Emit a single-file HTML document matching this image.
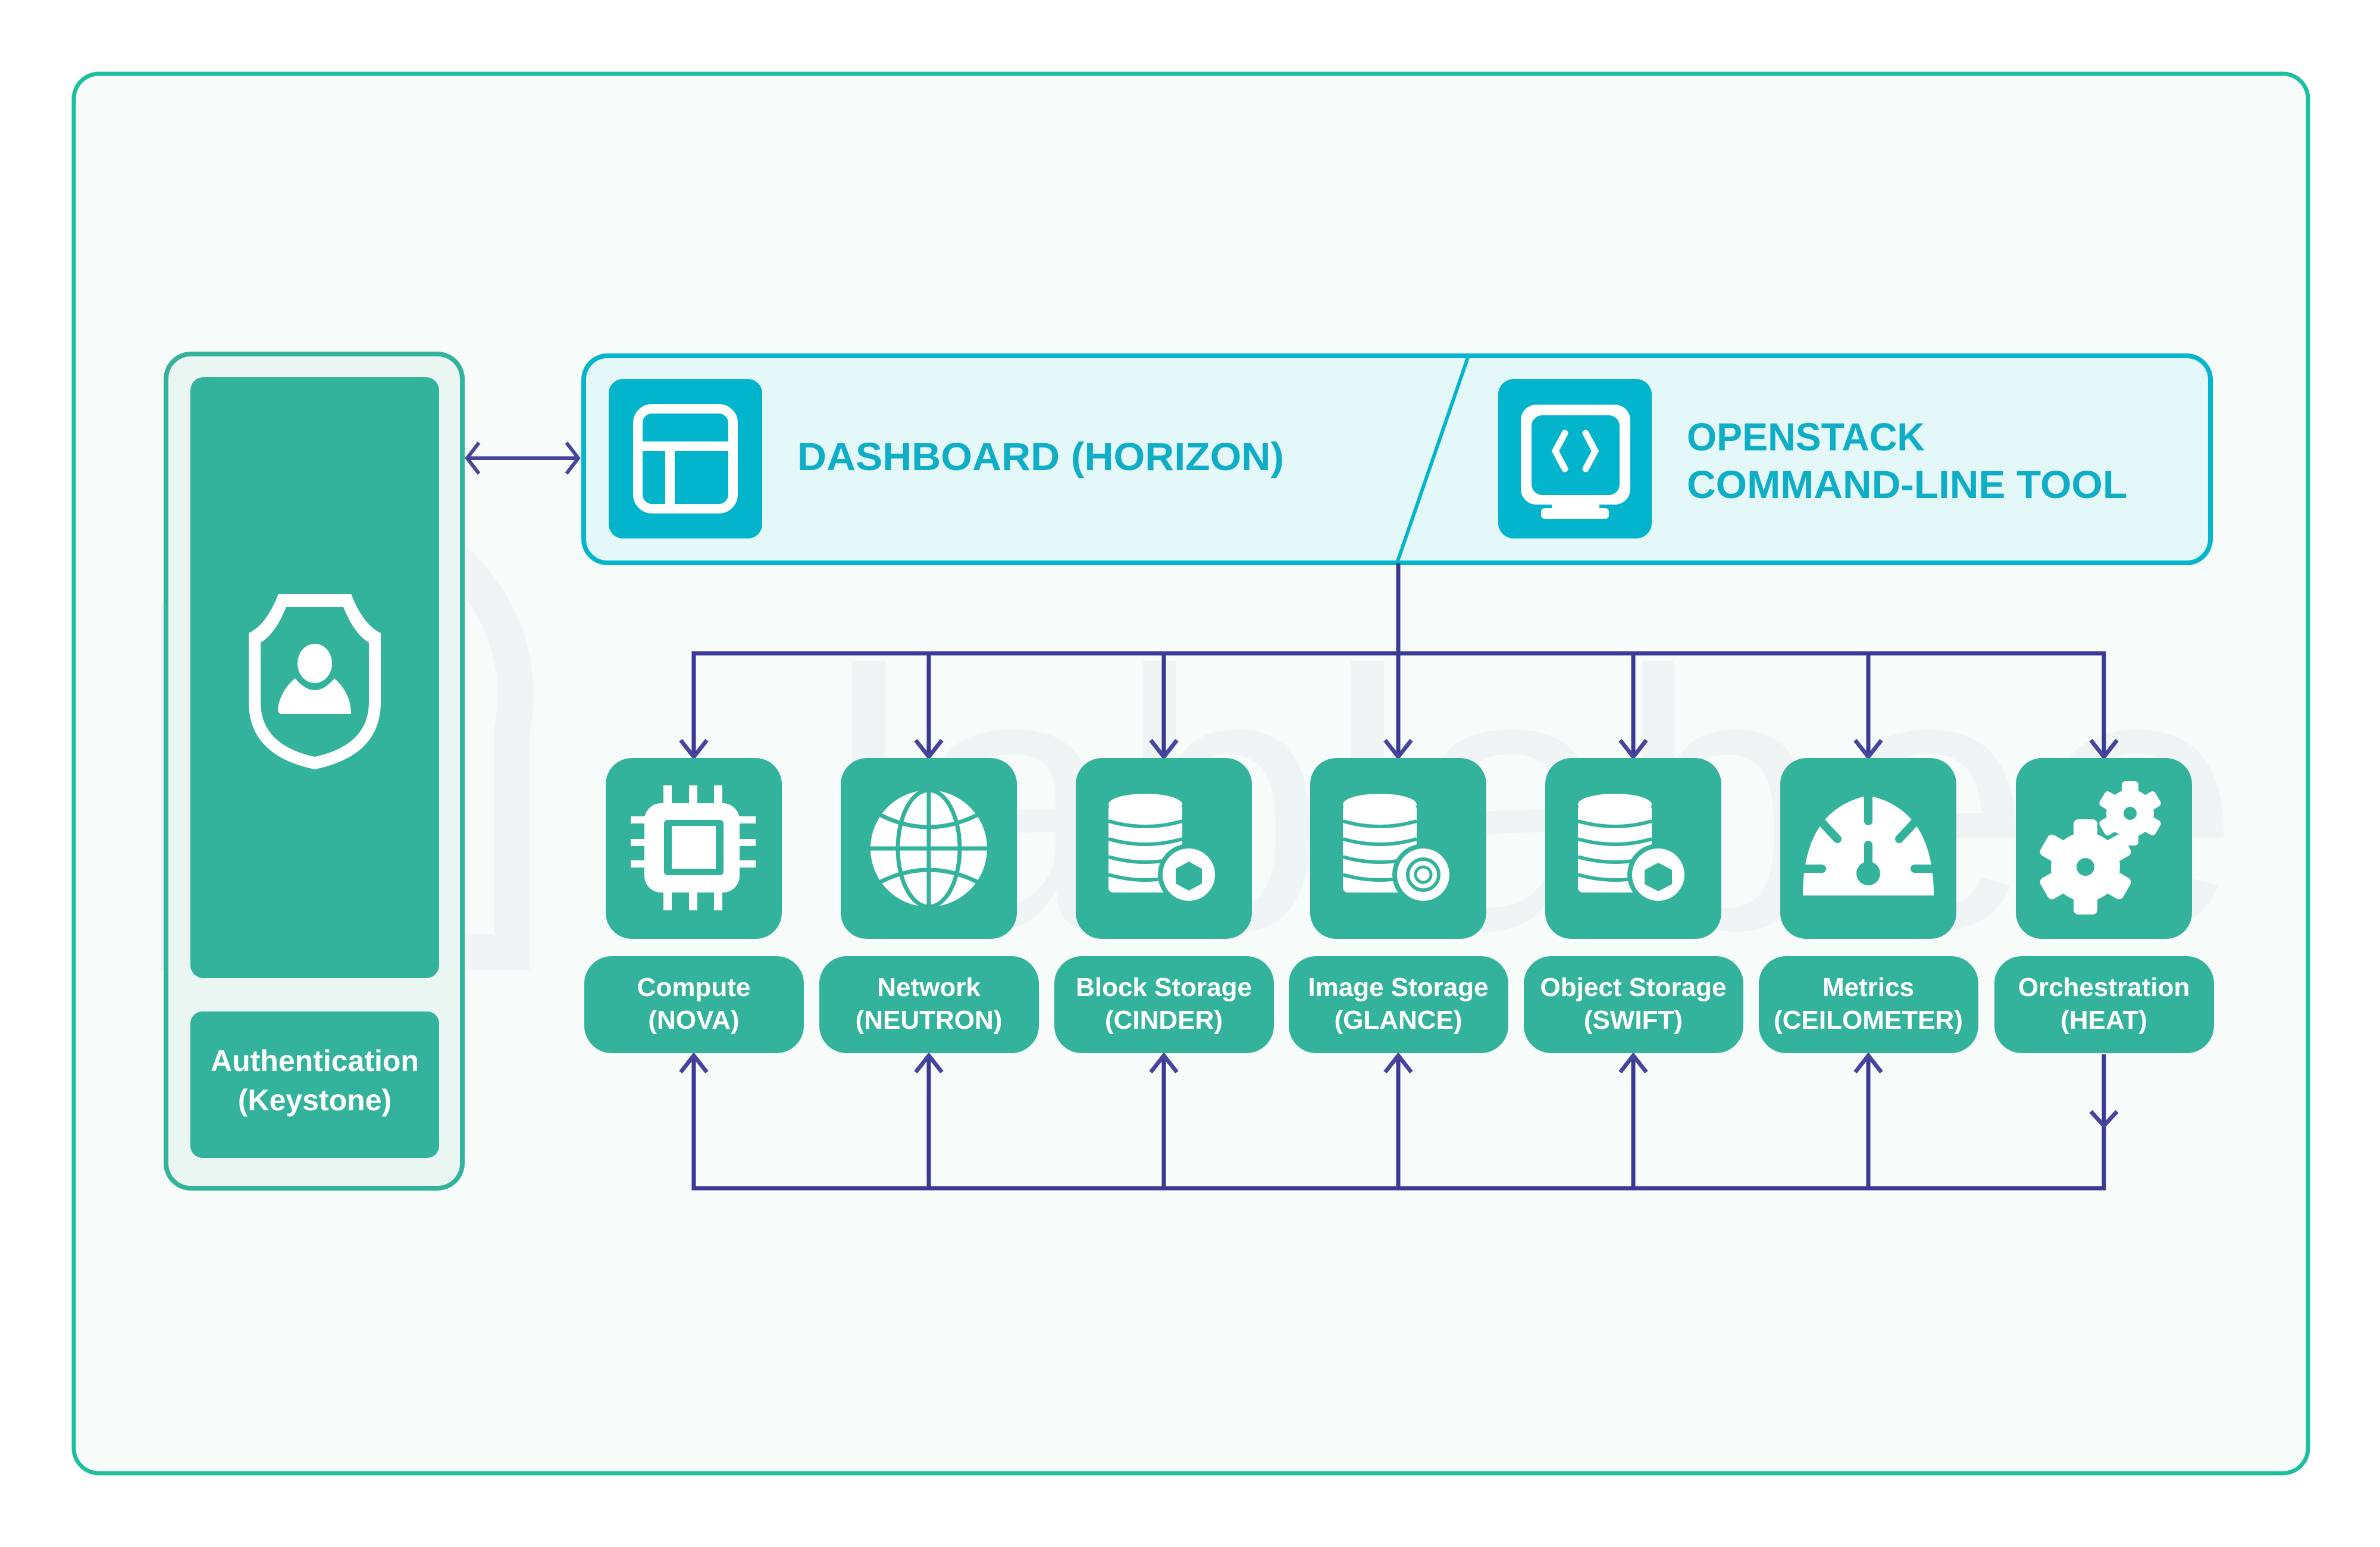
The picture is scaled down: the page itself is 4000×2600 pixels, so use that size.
<!DOCTYPE html>
<html><head><meta charset="utf-8"><style>
html,body{margin:0;padding:0;background:#fff;}
svg{display:block;}
text{font-family:"Liberation Sans",sans-serif;font-weight:bold;}
</style></head><body>
<svg width="4000" height="2600" viewBox="0 0 4000 2600" xmlns="http://www.w3.org/2000/svg">
<rect x="0" y="0" width="4000" height="2600" fill="#ffffff"/>
<rect x="124" y="124" width="3755" height="2352" rx="42" fill="#f7fbfa" stroke="#1dbf9f" stroke-width="7"/>
<!-- watermark -->
<text x="1390" y="1560" font-size="620" fill="#f0f4f4" style="font-weight:normal" textLength="2375" lengthAdjust="spacingAndGlyphs">lablabee</text>
<path d="M300,1030 A300,300 0 0 1 860,1230 L860,1600 L300,1600 Z" fill="none" stroke="#f0f4f4" stroke-width="60"/>

<!-- Keystone -->
<rect x="279" y="595" width="498" height="1402" rx="42" fill="#eaf6f2" stroke="#34b39c" stroke-width="8"/>
<rect x="320" y="634" width="418" height="1010" rx="22" fill="#34b39c"/>
<rect x="320" y="1700" width="418" height="246" rx="20" fill="#34b39c"/>
<text x="529" y="1800" font-size="50" fill="#fff" text-anchor="middle">Authentication</text>
<text x="529" y="1866" font-size="50" fill="#fff" text-anchor="middle">(Keystone)</text>
<!-- shield -->
<path d="M468,998 L590,998 Q610,1050 640,1064 L640,1180 Q640,1270 529,1293 Q418,1270 418,1180 L418,1064 Q448,1050 468,998 Z" fill="#fff"/>
<path d="M481,1020 L577,1020 Q595,1065 620,1080 L620,1180 Q620,1252 529,1272 Q438,1252 438,1180 L438,1080 Q463,1065 481,1020 Z" fill="#34b39c"/>
<ellipse cx="529" cy="1115" rx="29" ry="33" fill="#fff"/>
<path d="M496,1140 Q529,1180 562,1140 Q590,1165 590,1200 L473,1200 Q467,1200 467,1190 Q472,1160 496,1140 Z" fill="#fff"/>

<!-- double arrow -->
<line x1="785" y1="770" x2="972" y2="770" stroke="#45459c" stroke-width="6"/>
<path d="M805,744 L785,770 L805,796" fill="none" stroke="#45459c" stroke-width="6"/>
<path d="M952,744 L972,770 L952,796" fill="none" stroke="#45459c" stroke-width="6"/>

<!-- top box -->
<rect x="981" y="598" width="2734" height="348" rx="40" fill="#e4f7f9" stroke="#05b5cc" stroke-width="8"/>
<line x1="2468" y1="598" x2="2348" y2="946" stroke="#05b5cc" stroke-width="6"/>
<rect x="1023" y="637" width="258" height="268" rx="24" fill="#02b5cc"/>
<rect x="1072" y="687" width="160" height="168" rx="24" fill="none" stroke="#fff" stroke-width="16"/>
<line x1="1072" y1="750" x2="1232" y2="750" stroke="#fff" stroke-width="16"/>
<line x1="1126" y1="750" x2="1126" y2="855" stroke="#fff" stroke-width="16"/>
<text x="1340" y="790" font-size="66" fill="#0fadc6" textLength="818" lengthAdjust="spacingAndGlyphs">DASHBOARD (HORIZON)</text>
<rect x="2518" y="637" width="258" height="268" rx="26" fill="#02b5cc"/>
<rect x="2556" y="680" width="184" height="168" rx="26" fill="#fff"/>
<rect x="2574" y="698" width="148" height="134" rx="18" fill="#02b5cc"/>
<rect x="2608" y="840" width="80" height="20" fill="#fff"/>
<rect x="2590" y="854" width="114" height="18" rx="6" fill="#fff"/>
<path d="M2630,728 L2614,758 L2630,788 M2665,728 L2681,758 L2665,788" fill="none" stroke="#fff" stroke-width="11" stroke-linecap="round"/>
<text x="2835" y="757" font-size="66" fill="#0fadc6" textLength="400" lengthAdjust="spacingAndGlyphs">OPENSTACK</text>
<text x="2835" y="837" font-size="66" fill="#0fadc6" textLength="740" lengthAdjust="spacingAndGlyphs">COMMAND-LINE TOOL</text>

<!-- connectors -->
<g stroke="#3a3a96" stroke-width="7" fill="none">
<line x1="2350" y1="946" x2="2350" y2="1098"/>
<polyline points="1166,1272 1166,1098 3536,1098 3536,1272"/>
<line x1="1561" y1="1098" x2="1561" y2="1272"/>
<line x1="1956" y1="1098" x2="1956" y2="1272"/>
<line x1="2350" y1="1098" x2="2350" y2="1272"/>
<line x1="2745" y1="1098" x2="2745" y2="1272"/>
<line x1="3140" y1="1098" x2="3140" y2="1272"/>
<polyline points="1166,1774 1166,1997 3536,1997 3536,1772"/>
<line x1="1561" y1="1774" x2="1561" y2="1997"/>
<line x1="1956" y1="1774" x2="1956" y2="1997"/>
<line x1="2350" y1="1774" x2="2350" y2="1997"/>
<line x1="2745" y1="1774" x2="2745" y2="1997"/>
<line x1="3140" y1="1774" x2="3140" y2="1997"/>
</g>
<g stroke="#45459c" stroke-width="7" fill="none">
<path d="M1144,1244 L1166,1272 L1188,1244 M1539,1244 L1561,1272 L1583,1244 M1934,1244 L1956,1272 L1978,1244 M2328,1244 L2350,1272 L2372,1244 M2723,1244 L2745,1272 L2767,1244 M3118,1244 L3140,1272 L3162,1244 M3514,1244 L3536,1272 L3558,1244"/>
<path d="M1144,1802 L1166,1774 L1188,1802 M1539,1802 L1561,1774 L1583,1802 M1934,1802 L1956,1774 L1978,1802 M2328,1802 L2350,1774 L2372,1802 M2723,1802 L2745,1774 L2767,1802 M3118,1802 L3140,1774 L3162,1802"/>
<path d="M3514,1868 L3536,1892 L3558,1868"/>
</g>

<!-- service boxes -->
<g fill="#34b39c">
<rect x="1018" y="1274" width="296" height="304" rx="44"/>
<rect x="1413" y="1274" width="296" height="304" rx="44"/>
<rect x="1808" y="1274" width="296" height="304" rx="44"/>
<rect x="2202" y="1274" width="296" height="304" rx="44"/>
<rect x="2597" y="1274" width="296" height="304" rx="44"/>
<rect x="2992" y="1274" width="296" height="304" rx="44"/>
<rect x="3388" y="1274" width="296" height="304" rx="44"/>
<rect x="982" y="1607" width="369" height="163" rx="46"/>
<rect x="1377" y="1607" width="369" height="163" rx="46"/>
<rect x="1772" y="1607" width="369" height="163" rx="46"/>
<rect x="2166" y="1607" width="369" height="163" rx="46"/>
<rect x="2561" y="1607" width="369" height="163" rx="46"/>
<rect x="2956" y="1607" width="369" height="163" rx="46"/>
<rect x="3352" y="1607" width="369" height="163" rx="46"/>
</g>
<g fill="#fff" font-size="44" text-anchor="middle">
<text x="1166" y="1674">Compute</text><text x="1166" y="1729">(NOVA)</text>
<text x="1561" y="1674">Network</text><text x="1561" y="1729">(NEUTRON)</text>
<text x="1956" y="1674">Block Storage</text><text x="1956" y="1729">(CINDER)</text>
<text x="2350" y="1674">Image Storage</text><text x="2350" y="1729">(GLANCE)</text>
<text x="2745" y="1674">Object Storage</text><text x="2745" y="1729">(SWIFT)</text>
<text x="3140" y="1674">Metrics</text><text x="3140" y="1729">(CEILOMETER)</text>
<text x="3536" y="1674">Orchestration</text><text x="3536" y="1729">(HEAT)</text>
</g>

<!-- CPU -->
<g fill="#fff">
<rect x="1060" y="1372" width="210" height="12"/><rect x="1060" y="1410" width="210" height="12"/><rect x="1060" y="1446" width="210" height="12"/>
<rect x="1115" y="1320" width="14" height="210"/><rect x="1158" y="1320" width="14" height="210"/><rect x="1200" y="1320" width="14" height="210"/>
</g>
<rect x="1083" y="1350" width="160" height="150" rx="28" fill="#fff"/>
<rect x="1116" y="1378" width="100" height="93" rx="6" fill="#34b39c"/>
<rect x="1129" y="1388" width="74" height="72" fill="#fff"/>
<!-- globe -->
<circle cx="1561" cy="1426" r="98" fill="#fff"/>
<g stroke="#34b39c" stroke-width="7" fill="none">
<line x1="1461" y1="1426" x2="1661" y2="1426"/>
<line x1="1561" y1="1326" x2="1561" y2="1526"/>
<ellipse cx="1561" cy="1426" rx="52" ry="98"/>
<path d="M1480,1370 Q1561,1410 1642,1370 M1480,1482 Q1561,1442 1642,1482"/>
</g>
<!-- DB stacks -->
<g id="db">
<g fill="#fff">
<ellipse cx="1925" cy="1352" rx="62" ry="18"/>
<rect x="1863" y="1352" width="124" height="148" rx="8"/>
</g>
<g stroke="#34b39c" stroke-width="6" fill="none">
<path d="M1863,1380 Q1925,1398 1987,1380 M1863,1410 Q1925,1428 1987,1410 M1863,1440 Q1925,1458 1987,1440 M1863,1470 Q1925,1488 1987,1470"/>
</g>
<circle cx="1998" cy="1470" r="52" fill="#34b39c"/>
<circle cx="1998" cy="1470" r="44" fill="#fff"/>
</g>
<path d="M1998,1448 L2020,1460 L2020,1485 L1998,1497 L1976,1485 L1976,1460 Z" fill="#34b39c"/>
<use href="#db" x="394"/>
<circle cx="2392" cy="1470" r="26" fill="none" stroke="#34b39c" stroke-width="6"/>
<circle cx="2392" cy="1470" r="13" fill="none" stroke="#34b39c" stroke-width="5"/>
<use href="#db" x="789"/>
<path d="M2787,1450 L2810,1462 L2810,1486 L2787,1498 L2764,1486 L2764,1462 Z" fill="#34b39c"/>
<!-- gauge -->
<path d="M3030,1505 Q3030,1360 3140,1337 Q3250,1360 3250,1505 Z" fill="#fff"/>
<g stroke="#34b39c" stroke-width="14" stroke-linecap="round">
<line x1="3140" y1="1334" x2="3140" y2="1380"/>
<line x1="3060" y1="1380" x2="3088" y2="1410"/>
<line x1="3220" y1="1380" x2="3192" y2="1410"/>
<line x1="3030" y1="1460" x2="3062" y2="1460"/>
<line x1="3250" y1="1460" x2="3218" y2="1460"/>
<line x1="3140" y1="1420" x2="3140" y2="1470"/>
</g>
<circle cx="3140" cy="1468" r="20" fill="#34b39c"/>
<!-- gears -->
<g fill="#fff">
<circle cx="3505" cy="1457" r="58"/>
<g transform="translate(3505,1457)">
<rect x="-20" y="-80" width="40" height="160" rx="8"/>
<rect x="-20" y="-80" width="40" height="160" rx="8" transform="rotate(60)"/>
<rect x="-20" y="-80" width="40" height="160" rx="8" transform="rotate(120)"/>
</g>
<circle cx="3580" cy="1367" r="40"/>
<g transform="translate(3580,1367)">
<rect x="-14" y="-54" width="28" height="108" rx="6"/>
<rect x="-14" y="-54" width="28" height="108" rx="6" transform="rotate(60)"/>
<rect x="-14" y="-54" width="28" height="108" rx="6" transform="rotate(120)"/>
</g>
</g>
<circle cx="3505" cy="1457" r="15" fill="#34b39c"/>
<circle cx="3580" cy="1367" r="11" fill="#34b39c"/>
</svg>
</body></html>
